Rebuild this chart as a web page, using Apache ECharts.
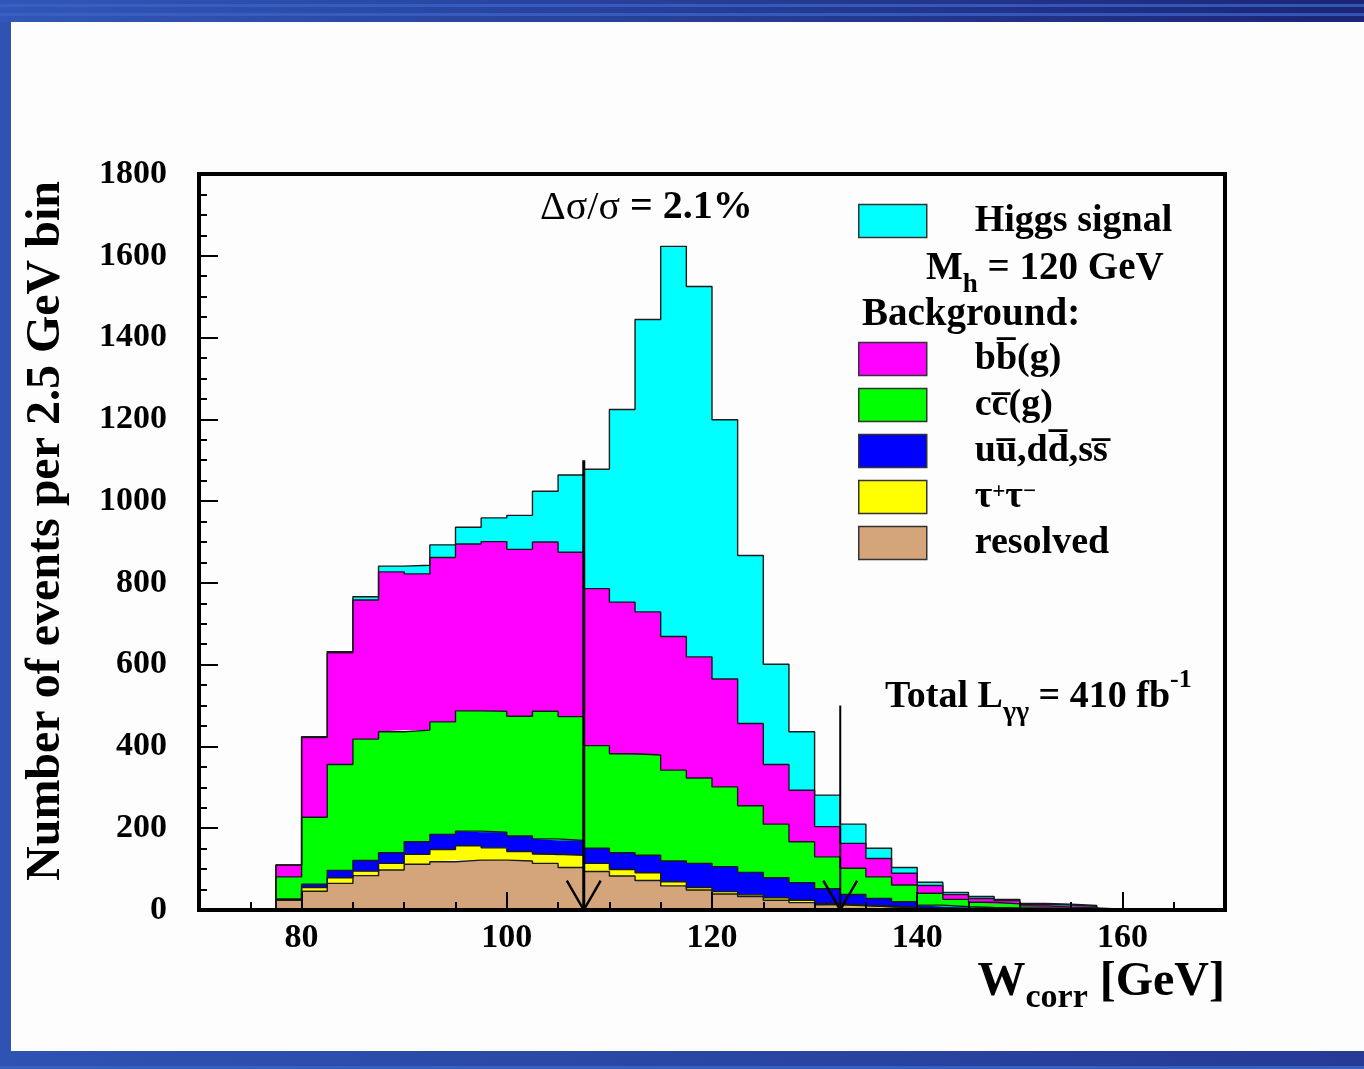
<!DOCTYPE html>
<html>
<head>
<meta charset="UTF-8">
<title>W_corr spectrum</title>
<style type="text/css">
	html, body { margin: 0; padding: 0; background: #fdfdfd; }
	#chart { width: 1364px; height: 1069px; }
</style>
</head>
<body>
<div id="chart"></div>
<script type="text/javascript" src="https://cdn.jsdelivr.net/npm/echarts@6.0.0/dist/echarts.min.js"></script>
<script>
// bin edges, 2.5 GeV wide
var binEdges = [70, 72.5, 75, 77.5, 80, 82.5, 85, 87.5, 90, 92.5, 95, 97.5, 100, 102.5, 105, 107.5,
	110, 112.5, 115, 117.5, 120, 122.5, 125, 127.5, 130, 132.5, 135, 137.5, 140, 142.5, 145, 147.5,
	150, 152.5, 155, 157.5, 160, 162.5, 165, 167.5, 170];

// events per bin, one value per bin (40 bins), stacked bottom -> top
var resolved = [0, 0, 0, 24, 46, 65, 84, 98, 112, 118, 122, 122, 120, 114, 104, 94, 83, 72, 59, 49,
	39, 33, 24, 18, 13, 10, 8, 5, 3, 2, 1, 1, 1, 0, 0, 0, 0, 0, 0, 0];
var tautau = [0, 0, 0, 1, 9, 14, 11, 16, 24, 30, 35, 30, 23, 23, 30, 20, 16, 19, 10, 6,
	6, 4, 6, 6, 3, 2, 2, 1, 1, 1, 1, 0, 0, 0, 0, 0, 0, 0, 0, 0];
var uds = [0, 0, 0, 2, 8, 18, 26, 26, 31, 37, 36, 38, 38, 37, 36, 37, 41, 43, 51, 59,
	61, 55, 49, 43, 36, 26, 18, 14, 8, 5, 4, 4, 4, 4, 3, 1, 1, 1, 0, 0];
var ccg = [0, 0, 0, 54, 164, 259, 297, 296, 273, 275, 294, 296, 293, 312, 303, 251, 242, 245, 222, 209,
	195, 163, 131, 100, 78, 64, 53, 41, 29, 18, 13, 10, 5, 3, 2, 1, 1, 0, 1, 2];
var bbg = [0, 0, 0, 29, 195, 273, 340, 391, 382, 402, 408, 415, 408, 414, 402, 384, 371, 350, 327, 296,
	264, 201, 146, 126, 74, 61, 45, 29, 19, 12, 9, 8, 4, 5, 4, 1, 0, 0, 0, 0];
var higgs = [0, 0, 0, 0, 2, 3, 8, 14, 21, 31, 41, 58, 83, 124, 189, 292, 471, 715, 954, 906,
	634, 411, 245, 143, 77, 47, 25, 14, 8, 5, 5, 3, 2, 2, 2, 0, 0, 0, 0, 0];

var layerNames = ['resolved', '\u03c4+\u03c4\u2212', 'uu\u0305,dd\u0305,ss\u0305', 'cc\u0305(g)', 'bb\u0305(g)', 'Higgs signal'];
var layerValues = [resolved, tautau, uds, ccg, bbg, higgs];
var layerColors = ['#d4a47a', '#ffff00', '#0000ff', '#00ff00', '#ff00ff', '#00ffff'];

var yTicks = [0, 1800, 200];
var xMajorTicks = [80, 100, 120, 140, 160];

// mass window cut arrows
var cutX = [107.5, 132.5];
var cutTop = [1100, 500];
var cutWidth = [3, 2];

var serif = '"Liberation Serif", "DejaVu Serif", serif';

var chart = echarts.init(document.getElementById('chart'));

// one step-histogram point per bin edge (last bin repeated to close the step)
function edgeData(vals) {
	return vals.concat([vals[vals.length - 1]]);
}

var series = [];
// filled layers
for (var i = 0; i < layerNames.length; i++) {
	series.push({
		name: layerNames[i],
		type: 'line',
		stack: 'fill',
		step: 'end',
		xAxisIndex: 0,
		yAxisIndex: 0,
		symbol: 'none',
		color: layerColors[i],
		lineStyle: { width: 0 },
		areaStyle: { color: layerColors[i], opacity: 1 },
		data: edgeData(layerValues[i]),
		z: 2,
		silent: true
	});
}
// outlines on top
for (var i = 0; i < layerNames.length; i++) {
	series.push({
		name: 'edge ' + i,
		type: 'line',
		stack: 'edge',
		step: 'end',
		xAxisIndex: 0,
		yAxisIndex: 0,
		symbol: 'none',
		lineStyle: { color: '#1a1a1a', width: 1.4 },
		data: edgeData(layerValues[i]),
		z: 3,
		silent: true
	});
}
// arrows
for (var k = 0; k < cutX.length; k++) {
	series.push({
		name: 'cut ' + k,
		type: 'line',
		xAxisIndex: 1,
		yAxisIndex: 0,
		symbol: 'none',
		lineStyle: { color: '#000', width: cutWidth[k] },
		data: [[cutX[k], cutTop[k]], [cutX[k], 0]],
		z: 6,
		silent: true
	});
	series.push({
		name: 'head ' + k,
		type: 'line',
		xAxisIndex: 1,
		yAxisIndex: 0,
		symbol: 'none',
		lineStyle: { color: '#000', width: 2.5 },
		data: [[cutX[k] - 1.65, 72], [cutX[k], 0], [cutX[k] + 1.65, 72]],
		z: 6,
		silent: true
	});
}

var legendText = {
	fontFamily: serif,
	fontWeight: 'bold',
	fontSize: 38,
	color: '#000',
	lineHeight: 33,
	padding: [0, 0, 0, 43],
	rich: {
		sup: { fontFamily: serif, fontWeight: 'bold', fontSize: 23, lineHeight: 16, verticalAlign: 'top', color: '#000' }
	}
};
function legendFmt(name) {
	if (name === layerNames[1]) return '\u03c4{sup|+}\u03c4{sup|\u2212}';
	return name;
}

var option = {
	animation: false,
	backgroundColor: '#fdfdfd',
	grid: {
		left: 199, right: 139, top: 174, bottom: 159,
		show: true, borderColor: '#000', borderWidth: 4, backgroundColor: 'transparent'
	},
	legend: [
		{
			data: ['Higgs signal'],
			left: 858, top: 202, padding: 0,
			itemWidth: 68, itemHeight: 33,
			icon: 'rect', selectedMode: false,
			itemStyle: { borderColor: '#333', borderWidth: 1.5 },
			textStyle: legendText, formatter: legendFmt
		},
		{
			data: [layerNames[4], layerNames[3], layerNames[2], layerNames[1], layerNames[0]],
			orient: 'vertical',
			left: 858, top: 340, padding: 0,
			itemWidth: 68, itemHeight: 33, itemGap: 8,
			icon: 'rect', selectedMode: false,
			itemStyle: { borderColor: '#333', borderWidth: 1.5 },
			textStyle: legendText, formatter: legendFmt
		}
	],
	xAxis: [
		{
			type: 'category',
			data: binEdges,
			boundaryGap: false,
			position: 'bottom',
			z: 10,
			axisLine: { show: true, onZero: false, lineStyle: { color: '#000', width: 4 } },
			axisTick: {
				show: true, inside: true, length: 18,
				interval: function (idx, val) { return xMajorTicks.indexOf(Number(val)) >= 0; },
				lineStyle: { color: '#000', width: 2 }
			},
			axisLabel: {
				interval: function (idx, val) { return xMajorTicks.indexOf(Number(val)) >= 0; },
				margin: 11,
				fontFamily: serif, fontWeight: 'bold', fontSize: 34, color: '#000'
			},
			splitLine: { show: false }
		},
		{
			type: 'value',
			min: 70, max: 170, interval: 5,
			position: 'bottom',
			z: 10,
			axisLine: { show: false },
			axisTick: { show: true, inside: true, length: 8, lineStyle: { color: '#000', width: 2 } },
			axisLabel: { show: false },
			splitLine: { show: false }
		}
	],
	yAxis: {
		type: 'value',
		min: yTicks[0], max: yTicks[1], interval: yTicks[2],
		z: 10,
		name: 'Number of events per 2.5 GeV bin',
		nameLocation: 'middle',
		nameGap: 128,
		nameTextStyle: { fontFamily: serif, fontWeight: 'bold', fontSize: 48, color: '#000', padding: [0, 0, 0, 22] },
		axisLine: { show: true, lineStyle: { color: '#000', width: 4 } },
		axisTick: { show: true, inside: true, length: 19, lineStyle: { color: '#000', width: 2 } },
		minorTick: { show: true, splitNumber: 4, length: 8, lineStyle: { color: '#000', width: 2 } },
		axisLabel: {
			margin: 32, fontFamily: serif, fontWeight: 'bold', fontSize: 34, color: '#000',
			formatter: function (v) { return String(v); }
		},
		splitLine: { show: false }
	},
	graphic: [
		// slide frame
		{
			type: 'rect', left: 0, top: 0, shape: { width: 1364, height: 22 }, silent: true,
			style: { fill: new echarts.graphic.LinearGradient(0, 0, 1, 0, [{ offset: 0, color: '#3057b9' }, { offset: 1, color: '#1c2577' }]) }
		},
		{ type: 'rect', left: 0, top: 4, shape: { width: 1364, height: 3 }, silent: true, style: { fill: '#3c62c4', opacity: 0.8 } },
		{ type: 'rect', left: 0, top: 13, shape: { width: 1364, height: 3 }, silent: true, style: { fill: '#3c62c4', opacity: 0.8 } },
		{ type: 'rect', left: 0, top: 22, shape: { width: 11, height: 1030 }, silent: true, style: { fill: '#2e53b2' } },
		{
			type: 'rect', left: 0, top: 1051, shape: { width: 1364, height: 18 }, silent: true,
			style: { fill: new echarts.graphic.LinearGradient(0, 0, 1, 0, [{ offset: 0, color: '#2e53b2' }, { offset: 1, color: '#263a96' }]) }
		},
		{ type: 'rect', left: 0, top: 1066, shape: { width: 1364, height: 3 }, silent: true, style: { fill: '#3560c0' } },
		// annotations
		{
			type: 'text', x: 540, y: 208, silent: true,
			style: {
				text: '{n|\u0394\u03c3/\u03c3}{b| = 2.1%}',
				verticalAlign: 'middle',
				rich: {
					n: { fontFamily: serif, fontSize: 40, fill: '#000' },
					b: { fontFamily: serif, fontWeight: 'bold', fontSize: 40, fill: '#000' }
				}
			}
		},
		{
			type: 'text', x: 926, y: 239, silent: true,
			style: {
				text: '{b|M}{s|h}{b| = 120 GeV}',
				verticalAlign: 'top',
				rich: {
					b: { fontFamily: serif, fontWeight: 'bold', fontSize: 39, lineHeight: 60, fill: '#000' },
					s: { fontFamily: serif, fontWeight: 'bold', fontSize: 27, lineHeight: 30, verticalAlign: 'bottom', fill: '#000' }
				}
			}
		},
		{
			type: 'text', x: 862, y: 315, silent: true,
			style: { text: 'Background:', verticalAlign: 'middle', fontFamily: serif, fontWeight: 'bold', fontSize: 39, fill: '#000' }
		},
		{
			type: 'text', x: 885, y: 667, silent: true,
			style: {
				text: '{b|Total L}{sub|\u03b3\u03b3}{b| = 410 fb}{sup|-1}',
				verticalAlign: 'top',
				rich: {
					b: { fontFamily: serif, fontWeight: 'bold', fontSize: 38, lineHeight: 60, fill: '#000' },
					sub: { fontFamily: serif, fontWeight: 'bold', fontSize: 28, lineHeight: 29, verticalAlign: 'bottom', fill: '#000' },
					sup: { fontFamily: serif, fontWeight: 'bold', fontSize: 26, lineHeight: 32, verticalAlign: 'top', fill: '#000' }
				}
			}
		},
		{
			type: 'text', x: 1225, y: 951, silent: true,
			style: {
				text: '{m|W}{s|corr}{m| [GeV]}',
				align: 'right',
				verticalAlign: 'top',
				rich: {
					m: { fontFamily: serif, fontWeight: 'bold', fontSize: 48, lineHeight: 64, fill: '#000' },
					s: { fontFamily: serif, fontWeight: 'bold', fontSize: 34, lineHeight: 24, verticalAlign: 'bottom', fill: '#000' }
				}
			}
		}
	],
	series: series
};

chart.setOption(option);
</script>
</body>
</html>
